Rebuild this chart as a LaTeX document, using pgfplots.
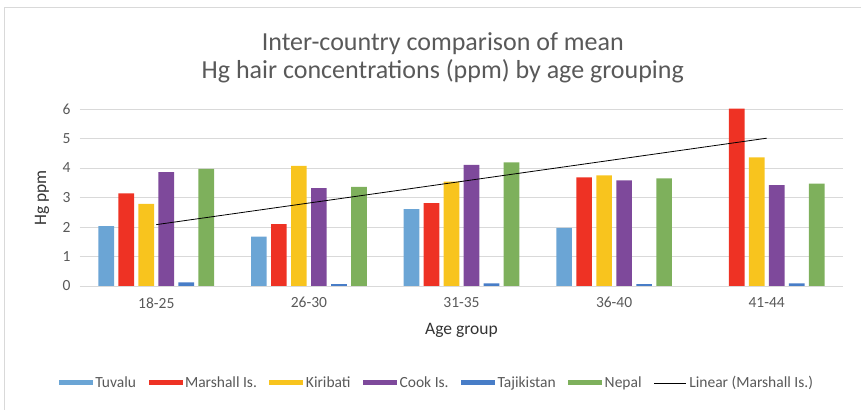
\documentclass[border=0pt]{standalone}
\usepackage{pgfplots}
\pgfplotsset{compat=1.18}
\usepackage{fontspec}
\setmainfont{Carlito}
\definecolor{cTuv}{HTML}{6BA5D5}
\definecolor{cMar}{HTML}{EE3224}
\definecolor{cKir}{HTML}{F8C41E}
\definecolor{cCoo}{HTML}{7E499B}
\definecolor{cTaj}{HTML}{487DC7}
\definecolor{cNep}{HTML}{7EB05C}
\definecolor{txt}{HTML}{595959}
\definecolor{grd}{HTML}{D9D9D9}
\begin{document}
\begin{tikzpicture}
\begin{axis}[
  scale only axis, width=763pt, height=177pt,
  xmin=0.5, xmax=5.5, ymin=0, ymax=6,
  xtick={1,2,3,4,5},
  xticklabels={18-25,26-30,31-35,36-40,41-44},
  ytick={0,1,2,3,4,5,6},
  ymajorgrids, major grid style={grd, line width=0.8pt},
  axis line style={draw=none},
  tick style={draw=none},
  tick label style={font=\fontsize{15.5}{18}\selectfont, text=txt},
  /pgf/number format/assume math mode=true,
  yticklabel style={xshift=-6pt},
  xticklabel style={yshift=-8pt},
  clip=false,
  bar width=15.7pt,
  ylabel={Hg ppm}, xlabel={Age group},
  every axis y label/.style={at={(axis description cs:-0.0498,0.497)}, rotate=90, anchor=center,
    font=\fontsize{17.5}{20}\selectfont, text=black!80},
  every axis x label/.style={at={(axis description cs:0.5,-0.2486)}, anchor=center,
    font=\fontsize{17.5}{20}\selectfont, text=black!80},
  legend columns=7,
  legend style={at={(axis description cs:0.4675,-0.548)}, anchor=center, draw=none,
    font=\fontsize{15.5}{18}\selectfont, text=txt,
    nodes={inner sep=1.5pt},
    /tikz/every odd column/.append style={column sep=1pt},
    /tikz/every even column/.append style={column sep=11pt}},
  legend image code/.code={\fill[#1,draw=none] (0pt,-2.5pt) rectangle (34pt,2.5pt);},
]
\addplot[ybar, bar shift=-50pt, fill=cTuv, draw=none] coordinates {(1,2.03) (2,1.67) (3,2.61) (4,1.97)};
\addlegendentry{Tuvalu}
\addplot[ybar, bar shift=-30pt, fill=cMar, draw=none] coordinates {(1,3.14) (2,2.10) (3,2.81) (4,3.68) (5,6.01)};
\addlegendentry{Marshall Is.}
\addplot[ybar, bar shift=-10pt, fill=cKir, draw=none] coordinates {(1,2.78) (2,4.07) (3,3.54) (4,3.75) (5,4.36)};
\addlegendentry{Kiribati}
\addplot[ybar, bar shift=10pt, fill=cCoo, draw=none] coordinates {(1,3.86) (2,3.32) (3,4.11) (4,3.58) (5,3.42)};
\addlegendentry{Cook Is.}
\addplot[ybar, bar shift=30pt, fill=cTaj, draw=none] coordinates {(1,0.12) (2,0.06) (3,0.09) (4,0.06) (5,0.09)};
\addlegendentry{Tajikistan}
\addplot[ybar, bar shift=50pt, fill=cNep, draw=none] coordinates {(1,3.97) (2,3.36) (3,4.19) (4,3.65) (5,3.47)};
\addlegendentry{Nepal}
\addplot[black, line width=0.8pt, sharp plot, mark=none,
  legend image code/.code={\draw[black, line width=0.8pt] (0pt,0pt) -- (32pt,0pt);}] coordinates {(1,2.08) (5,5.01)};
\addlegendentry{Linear (Marshall Is.)}
\node[align=center, font=\fontsize{26}{28}\selectfont, text=txt] at (axis description cs:0.4755,1.29)
  {Inter-country comparison of mean\\Hg hair concentrations (ppm) by age grouping};
\draw[grd, line width=1pt] (axis description cs:-0.0996,-0.70056) -- (axis description cs:-0.0996,1.5706) -- (axis description cs:1.02359,1.5706);
\coordinate (bbsw) at (axis description cs:-0.10485,-0.70056);
\coordinate (bbne) at (axis description cs:1.02359,1.61582);
\end{axis}
\pgfresetboundingbox
\path[use as bounding box] (bbsw) rectangle (bbne);
\end{tikzpicture}
\end{document}
